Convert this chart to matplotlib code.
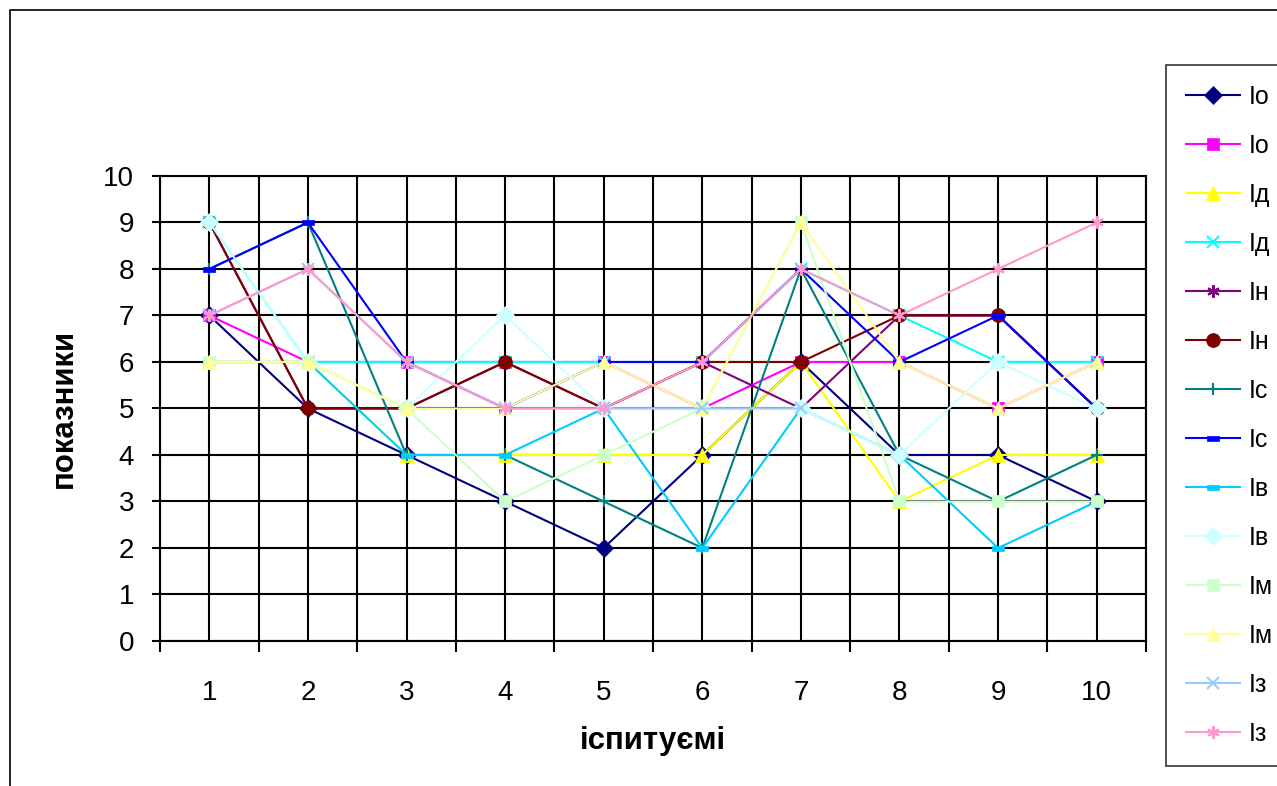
import matplotlib
matplotlib.use("Agg")
from matplotlib import pyplot as plt
from matplotlib.patches import Rectangle

plt.rcParams['font.family'] = ['Liberation Sans', 'DejaVu Sans']

nan = float('nan')

# досліджувані
x = [1, 2, 3, 4, 5, 6, 7, 8, 9, 10]

labels = ['Іо', 'Іо', 'Ід', 'Ід', 'Ін', 'Ін', 'Іс', 'Іс', 'Ів', 'Ів', 'Ім', 'Ім', 'Із', 'Із']

s1 = [7, 5, 4, 3, 2, 4, 6, 4, 4, 3]
s2 = [7, 6, 6, 6, 6, 5, 6, 6, 5, 6]
s3 = [6, 6, 4, 4, 4, 4, 6, 3, 4, 4]
s4 = [9, 6, 6, 6, 6, 6, 8, 7, 6, 6]
s5 = [9, 5, 5, 6, 5, 6, 5, 7, 7, 5]
s6 = [9, 5, 5, 6, 5, 6, 6, 7, 7, 5]
s7 = [8, 9, 4, 4, 3, 2, 8, 4, 3, 4]
s8 = [8, 9, 6, 5, 6, 6, 8, 6, 7, 5]
s9 = [6, 6, 4, 4, 5, 2, 5, 4, 2, 3]
s10 = [9, 6, 5, 7, 5, 5, 5, 4, 6, 5]
s11 = [6, 6, 5, 3, 4, 5, 9, 3, 3, 3]
s12 = [6, 6, 5, 5, 6, 5, 9, 6, 5, 6]
s13 = [7, 8, 6, 5, 5, 5, 5, nan, nan, nan]
s14 = [7, 8, 6, 5, 5, 6, 8, 7, 8, 9]
series = [s1, s2, s3, s4, s5, s6, s7, s8, s9, s10, s11, s12, s13, s14]

colors = ['#000080', '#FF00FF', '#FFFF00', '#00FFFF', '#800080', '#800000', '#008080',
          '#0000FF', '#00CCFF', '#CCFFFF', '#CCFFCC', '#FFFF99', '#99CCFF', '#FF99CC']
dash = [(-1, -0.4), (1, -0.4), (1, 0.4), (-1, 0.4), (-1, -0.4)]
star = (6, 2, 0)
markers = ['D', 's', '^', 'x', star, 'o', '+', dash, dash, 'D', 's', '^', 'x', star]
msizes = [9, 9, 10, 8, 9, 10, 9, 9, 9, 9, 9, 10, 8, 9]

fig = plt.figure(figsize=(12.77, 7.86), dpi=100)
ax = fig.add_axes([0.1253, 0.1845, 0.7721, 0.5916])

for i in range(len(series)):
    m = markers[i]
    filled = m not in ('x', '+', star)
    ax.plot(x, series[i], color=colors[i], lw=1.5, marker=m, markersize=msizes[i],
            markerfacecolor=colors[i], markeredgecolor=colors[i],
            markeredgewidth=1.5 if not filled else 0.5, label=labels[i], zorder=3 + i)

ax.set_xlim(0.5, 10.5)
ax.set_ylim(0, 10)
ax.set_xticks(x)
ax.set_xticks([v + 0.5 for v in range(0, 11)], minor=True)
ax.set_yticks(range(0, 11))
ax.grid(True, which='both', axis='x', color='black', lw=1.5)
ax.grid(True, which='major', axis='y', color='black', lw=1.5)
ax.tick_params(axis='x', which='major', length=0, pad=28, labelsize=20)
ax.tick_params(axis='x', which='minor', length=8, width=1.5, direction='out')
ax.tick_params(axis='y', length=6, width=1.5, direction='out', pad=12.5, labelsize=20)
for sp in ax.spines.values():
    sp.set_color('black')
    sp.set_linewidth(1.5)
ax.set_axisbelow(True)

ax.set_xlabel('іспитуємі', fontsize=22.5, fontweight='bold')
ax.set_ylabel('показники', fontsize=22.5, fontweight='bold')
ax.xaxis.set_label_coords(0.5, -0.182)
ax.yaxis.set_label_coords(-0.082, 0.5)

leg = fig.legend(loc='upper left', bbox_to_anchor=(0.913, 0.917), fontsize=18,
                 frameon=True, fancybox=False, edgecolor='black', borderaxespad=0,
                 labelspacing=1.0, handlelength=2.16, handletextpad=0.36,
                 borderpad=0.8)
leg.get_frame().set_linewidth(1.2)

# рамка навколо діаграми
fig.patches.append(Rectangle((10 / 1277, -0.05), 1.1, 1 - 10 / 786 + 0.05,
                             transform=fig.transFigure, fill=False,
                             edgecolor='black', lw=1.2))

fig.savefig('out.png', dpi=100)
